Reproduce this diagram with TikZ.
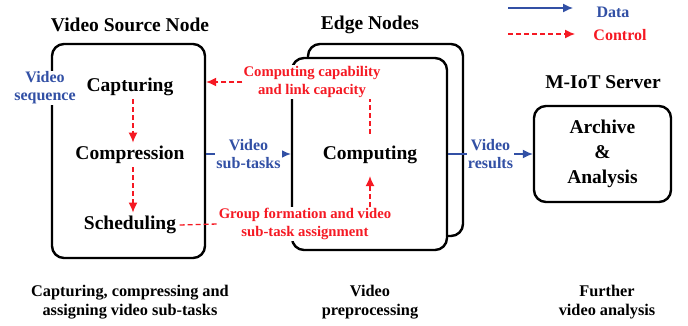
\documentclass[tikz,border=0pt]{standalone}
\usepackage{fontspec}
\setmainfont{Liberation Serif}
\usepackage{tikz}
\usetikzlibrary{arrows.meta}
\definecolor{datablue}{RGB}{50,80,165}
\definecolor{ctrlred}{RGB}{245,25,35}

\begin{document}
\begin{tikzpicture}[x=1pt,y=-1pt,
  box/.style={draw,line width=2.4pt,rounded corners=12pt,fill=white,inner sep=0pt},
  big/.style={font=\fontsize{19.5}{25}\selectfont\bfseries,align=center},
  capt/.style={font=\fontsize{16.3}{19}\selectfont\bfseries,align=center},
  blbl/.style={font=\fontsize{16}{18}\selectfont\bfseries,text=datablue,fill=white,align=center,inner sep=1pt},
  rlbl/.style={font=\fontsize{14.7}{18}\selectfont\bfseries,text=ctrlred,fill=white,align=center,inner sep=1pt},
  data/.style={datablue,line width=1.3pt,-{Latex[length=10pt,width=9pt]}},
  ctrl/.style={ctrlred,line width=1.3pt,dash pattern=on 5pt off 3pt,-{Latex[length=10pt,width=9pt]}}]

\useasboundingbox (0,0) rectangle (688,326);

% boxes
\node [box,minimum width=153,minimum height=214] (src) at (128.5,151) {};
\node [box,minimum width=155,minimum height=192] (back) at (385.5,140) {};
\node [box,minimum width=155,minimum height=192] (edg) at (369.5,154) {};
\node [box,big,minimum width=137,minimum height=96] (srv) at (602.5,154) {Archive\\\&\\Analysis};

% titles
\node [big] (srctitle) at (130,25) {Video Source Node};
\node [big] (edgtitle) at (370,25) {Edge Nodes};
\node [big] (srvtitle) at (603,82) {M-IoT Server};

% steps
\node [big] (cap) at (130,87) {Capturing};
\node [big] (comp) at (130,155) {Compression};
\node [big] (sch) at (130,225) {Scheduling};
\node [big,inner sep=12pt] (cmp) at (370,155) {Computing};

\draw [ctrl] ([xshift=3pt]cap.south) -- ([xshift=3pt]comp.north);
\draw [ctrl] ([xshift=3pt]comp.south) -- ([xshift=3pt]sch.north);

% labels
\node [blbl] (vseq) at (45,88) {Video\\sequence};
\node [rlbl] (ccap) at (312,82) {Computing capability\\and link capacity};
\node [rlbl] (grp) at (305,224) {Group formation and video\\sub-task assignment};

% control
\draw [ctrl,-] (cmp.north) -- (cmp.north |- ccap.south);
\draw [ctrl] (ccap.west) -- (ccap.west -| src.east);
\draw [ctrl,-] (sch.east) -- (grp.west);
\draw [ctrl] (grp.north -| cmp.south) -- (cmp.south);

% data
\draw [data] (src.east |- edg.west) -- node[blbl] (vsub) {Video\\sub-tasks} (edg.west);
\draw [data] (edg.east) -- node[blbl] (vres) {Video\\results} (srv.west);

% legend
\coordinate (d0) at (508,8);
\coordinate (d1) at (573,8);
\coordinate (c0) at (508,34);
\coordinate (c1) at (575,34);
\draw [data] (d0) -- (d1);
\draw [ctrl] (c0) -- (c1);
\node [blbl,fill=none] (ldata) at (613,12) {Data};
\node [rlbl,font=\fontsize{16}{18}\selectfont\bfseries,fill=none] (lctrl) at (620,35) {Control};

% captions
\node [capt] (srccap) at (130,302) {Capturing, compressing and\\assigning video sub-tasks};
\node [capt] (edgcap) at (370,302) {Video\\preprocessing};
\node [capt] (srvcap) at (607,302) {Further\\video analysis};
\end{tikzpicture}
\end{document}
